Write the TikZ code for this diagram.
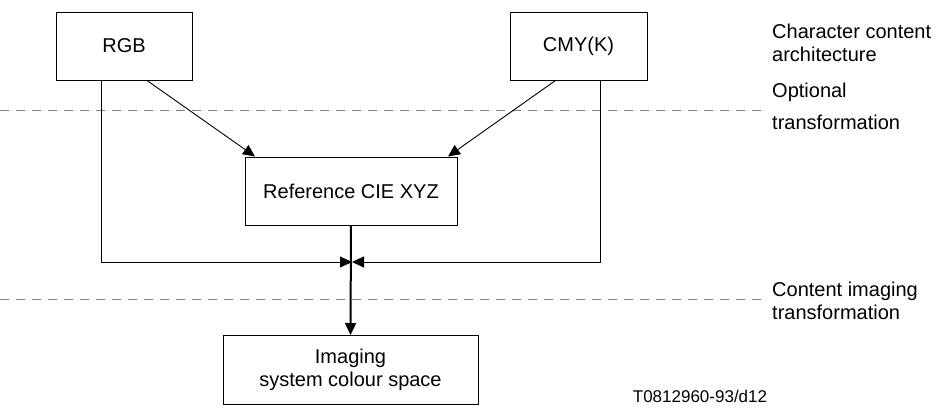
\documentclass[tikz,border=0pt]{standalone}
\usepackage{fontspec}
\setmainfont{Liberation Sans}
\usetikzlibrary{arrows.meta}
\tikzset{
  box/.style={draw, line width=1pt, inner sep=0pt, align=center, font=\fontsize{20}{23}\selectfont},
  lbl/.style={anchor=west, align=left, inner sep=0pt, font=\fontsize{20}{23}\selectfont},
  thin/.style={line width=0.9pt},
  tip/.style={-{Triangle[length=12pt,width=11pt]}},
  dashline/.style={line width=1pt, gray, dash pattern=on 9pt off 7pt}
}
\begin{document}
\begin{tikzpicture}[x=1pt,y=-1pt]
\useasboundingbox (0,0) rectangle (943,410);
\node[box, minimum width=136pt, minimum height=68pt] (rgb) at (124,46) {RGB};
\node[box, minimum width=137pt, minimum height=68pt] (cmy) at (578.5,46) {CMY(K)};
\node[box, minimum width=212pt, minimum height=68pt] (ref) at (351,191) {Reference CIE XYZ};
\node[box, minimum width=255pt, minimum height=69pt] (img) at (350.5,370) {Imaging\\system colour space};
\coordinate (mid) at (352,262);
\coordinate (d1a) at (0,110);
\coordinate (d1b) at (765,110);
\coordinate (d2a) at (0,299);
\coordinate (d2b) at (765,299);
\draw[dashline] (d1a) -- (d1b);
\draw[dashline] (d2a) -- (d2b);
\node[lbl] (l1) at (772,43) {Character content\\architecture};
\node[lbl] (l2) at (772,106) {Optional\\[9pt]transformation};
\node[lbl] (l3) at (772,301) {Content imaging\\transformation};
\node[inner sep=0pt, font=\fontsize{17}{19}\selectfont] (tag) at (700,396) {T0812960-93/d12};
\draw[thin, tip] ([xshift=23pt]rgb.south) -- ([xshift=-96pt]ref.north);
\draw[thin, tip] ([xshift=-23pt]cmy.south) -- ([xshift=97pt]ref.north);
\draw[thin, tip] ([xshift=-23pt]rgb.south) |- (mid);
\draw[thin, tip] ([xshift=22pt]cmy.south) |- (mid);
\draw[line width=2pt, tip] (ref.south) -- (img.north);
\end{tikzpicture}
\end{document}
